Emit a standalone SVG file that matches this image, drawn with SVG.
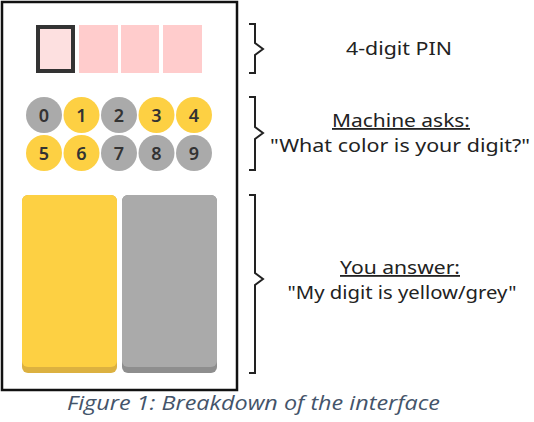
<svg xmlns="http://www.w3.org/2000/svg" width="534" height="422" viewBox="0 0 534 422">
<style>
.frame{fill:#fff;stroke:#111;stroke-width:2.5}
.pin{fill:#ffcccc}
.y{fill:#fdd043}
.g{fill:#aaaaaa}
.d{font-family:"Noto Sans","Liberation Sans",sans-serif;font-weight:600;font-size:18px;fill:#333;text-anchor:middle}
.br{fill:none;stroke:#222;stroke-width:2}
.t{font-family:"Noto Sans","Liberation Sans",sans-serif;font-size:18px;fill:#222;text-anchor:middle}
.cap{font-family:"Open Sans","Liberation Sans",sans-serif;font-style:italic;font-size:20px;fill:#44546a}
</style>
<rect class="frame" x="2" y="2" width="235" height="388"/>
<g id="pin">
<rect x="38" y="27" width="35" height="44" fill="#fde0e0" stroke="#333" stroke-width="4"/>
<rect class="pin" x="79" y="25" width="39" height="48"/>
<rect class="pin" x="121" y="25" width="38" height="48"/>
<rect class="pin" x="163" y="25" width="39" height="48"/>
</g>
<g id="keypad">
<circle class="g" cx="44" cy="115" r="18"/><text class="d" x="44" y="121.5">0</text>
<circle class="y" cx="81.5" cy="115" r="18"/><text class="d" x="81.5" y="121.5">1</text>
<circle class="g" cx="119" cy="115" r="18"/><text class="d" x="119" y="121.5">2</text>
<circle class="y" cx="156.5" cy="115" r="18"/><text class="d" x="156.5" y="121.5">3</text>
<circle class="y" cx="194" cy="115" r="18"/><text class="d" x="194" y="121.5">4</text>
<circle class="y" cx="44" cy="153" r="18"/><text class="d" x="44" y="159.5">5</text>
<circle class="y" cx="81.5" cy="153" r="18"/><text class="d" x="81.5" y="159.5">6</text>
<circle class="g" cx="119" cy="153" r="18"/><text class="d" x="119" y="159.5">7</text>
<circle class="g" cx="156.5" cy="153" r="18"/><text class="d" x="156.5" y="159.5">8</text>
<circle class="g" cx="194" cy="153" r="18"/><text class="d" x="194" y="159.5">9</text>
</g>
<g id="buttons">
<rect x="22" y="195" width="95" height="178" rx="6" fill="#dcb140"/>
<rect x="22" y="195" width="95" height="172" rx="6" fill="#fdd043"/>
<rect x="122" y="195" width="95" height="178" rx="6" fill="#8e8e8e"/>
<rect x="122" y="195" width="95" height="172" rx="6" fill="#aaaaaa"/>
</g>
<g id="connectors">
<path class="br" d="M249 24H255V43L263 49L255 55V73H249"/>
<path class="br" d="M249 97H255V127L263 133L255 139V170H249"/>
<path class="br" d="M249 195H255V273L263 279L255 285V373H249"/>
</g>
<g id="labels">
<text class="t" x="399" y="55" textLength="106" lengthAdjust="spacingAndGlyphs">4-digit PIN</text>
<text class="t" x="401" y="127" text-decoration="underline" textLength="138" lengthAdjust="spacingAndGlyphs">Machine asks:</text>
<text class="t" x="400" y="152" textLength="260" lengthAdjust="spacingAndGlyphs">"What color is your digit?"</text>
<text class="t" x="400" y="274" text-decoration="underline" textLength="120" lengthAdjust="spacingAndGlyphs">You answer:</text>
<text class="t" x="402" y="299" textLength="229" lengthAdjust="spacingAndGlyphs">"My digit is yellow/grey"</text>
</g>
<text class="cap" x="67" y="410" textLength="373" lengthAdjust="spacingAndGlyphs">Figure 1: Breakdown of the interface</text>
</svg>
